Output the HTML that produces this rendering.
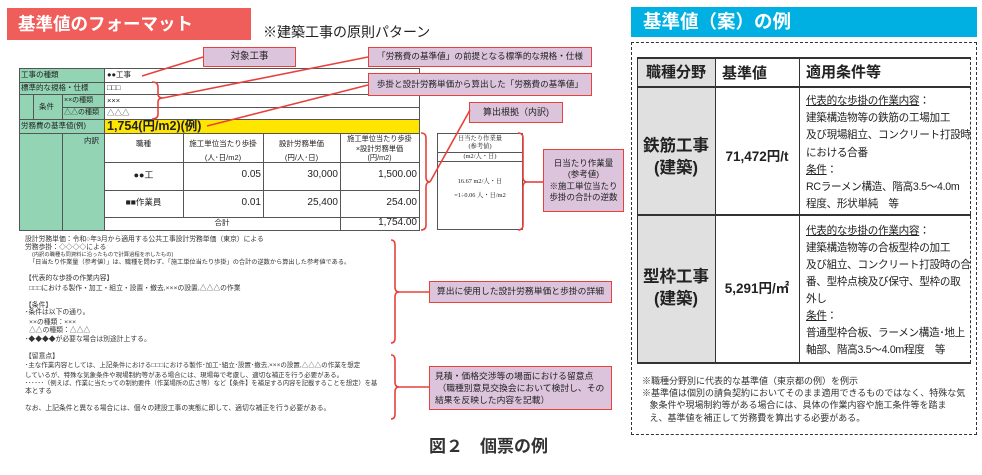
<!DOCTYPE html>
<html><head><meta charset="utf-8">
<style>
*{margin:0;padding:0;box-sizing:border-box}
body{width:982px;height:475px;background:#fff;position:relative;overflow:hidden;font-family:"Liberation Sans","Noto Sans CJK JP",sans-serif;color:#222}
.a{position:absolute}
.box{position:absolute;background:#dcc4dc;border:1.5px solid #e8413c;font-size:8.6px;display:flex;align-items:center;justify-content:center;text-align:center;line-height:1.3;white-space:nowrap}
.c{position:absolute;font-size:7.5px;line-height:1;white-space:nowrap}
.g{background:#93d4b5}
.ln{position:absolute;background:#555}
.t{position:absolute;font-size:6.8px;line-height:1;white-space:nowrap;left:25px;color:#333}
u{text-decoration:underline}
</style></head><body>

<div class="a" style="left:7px;top:8px;width:244px;height:32px;background:#ef5e5a;color:#fff;font-size:17.5px;font-weight:bold;line-height:32px;padding-left:11px">基準値のフォーマット</div>
<div class="a" style="left:263px;top:22px;font-size:14px;line-height:20px;color:#222">※建築工事の原則パターン</div>

<div class="a g" style="left:19px;top:68px;width:85px;height:162px"></div>
<div class="a" style="left:104px;top:68px;width:315px;height:51px;background:#fff"></div>
<div class="a" style="left:104px;top:119px;width:315px;height:14px;background:#ffe600"></div>
<div class="a" style="left:104px;top:133px;width:315px;height:97px;background:#fff"></div>
<div class="a" style="left:19px;top:68px;width:401px;height:163px;border:1.5px solid #555"></div>
<div class="ln" style="left:19px;top:82px;width:400px;height:1px"></div>
<div class="ln" style="left:19px;top:94px;width:400px;height:1px"></div>
<div class="ln" style="left:62px;top:107px;width:357px;height:1px"></div>
<div class="ln" style="left:19px;top:119px;width:400px;height:1px"></div>
<div class="ln" style="left:19px;top:133px;width:400px;height:1px"></div>
<div class="ln" style="left:104px;top:162px;width:315px;height:1px"></div>
<div class="ln" style="left:104px;top:190px;width:315px;height:1px"></div>
<div class="ln" style="left:104px;top:217px;width:315px;height:1px"></div>
<div class="ln" style="left:104px;top:68px;width:1px;height:162px"></div>
<div class="ln" style="left:33px;top:94px;width:1px;height:25px"></div>
<div class="ln" style="left:62px;top:94px;width:1px;height:25px"></div>
<div class="ln" style="left:62px;top:133px;width:1px;height:97px"></div>
<div class="ln" style="left:183px;top:133px;width:1px;height:84px"></div>
<div class="ln" style="left:263px;top:133px;width:1px;height:84px"></div>
<div class="ln" style="left:340px;top:133px;width:1px;height:97px"></div>

<div class="c" style="left:21px;top:71px">工事の種類</div>
<div class="c" style="left:107px;top:71px">●●工事</div>
<div class="c" style="left:21px;top:84px">標準的な規格・仕様</div>
<div class="c" style="left:107px;top:84px">□□□</div>
<div class="c" style="left:39px;top:103px">条件</div>
<div class="c" style="left:64px;top:97px;font-size:7px">××の種類</div>
<div class="c" style="left:107px;top:97px">×××</div>
<div class="c" style="left:64px;top:109px;font-size:7px">△△の種類</div>
<div class="c" style="left:107px;top:109px">△△△</div>
<div class="c" style="left:21px;top:122px">労務費の基準値(例)</div>
<div class="c" style="left:107px;top:119px;font-size:12.5px;font-weight:bold;line-height:14px">1,754(円/m2)(例)</div>
<div class="c" style="left:84px;top:137px">内訳</div>
<div class="c" style="left:104px;width:79px;top:140px;text-align:center">職種</div>
<div class="c" style="left:183px;width:80px;top:137px;text-align:center;line-height:14px">施工単位当たり歩掛<br>(人･日/m2)</div>
<div class="c" style="left:263px;width:77px;top:137px;text-align:center;line-height:14px">設計労務単価<br>(円/人･日)</div>
<div class="c" style="left:340px;width:79px;top:134px;text-align:center;line-height:9.5px;font-size:7.2px">施工単位当たり歩掛<br>×設計労務単価<br>(円/m2)</div>
<div class="c" style="left:104px;width:79px;top:171px;text-align:center;font-size:9px">●●工</div>
<div class="c" style="left:183px;width:78px;top:170px;text-align:right;font-size:10px">0.05</div>
<div class="c" style="left:263px;width:75px;top:170px;text-align:right;font-size:10px">30,000</div>
<div class="c" style="left:340px;width:77px;top:170px;text-align:right;font-size:10px">1,500.00</div>
<div class="c" style="left:104px;width:79px;top:198px;text-align:center;font-size:8.5px">■■作業員</div>
<div class="c" style="left:183px;width:78px;top:198px;text-align:right;font-size:10px">0.01</div>
<div class="c" style="left:263px;width:75px;top:198px;text-align:right;font-size:10px">25,400</div>
<div class="c" style="left:340px;width:77px;top:198px;text-align:right;font-size:10px">254.00</div>
<div class="c" style="left:104px;width:236px;top:219px;text-align:center">合計</div>
<div class="c" style="left:340px;width:77px;top:218px;text-align:right;font-size:10px">1,754.00</div>

<div class="a" style="left:437px;top:133px;width:86px;height:97px;border:1px solid #555;background:#fff"></div>
<div class="ln" style="left:437px;top:152px;width:85px;height:1px"></div>
<div class="ln" style="left:437px;top:161px;width:85px;height:1px"></div>
<div class="c" style="left:437px;width:86px;top:135px;text-align:center;font-size:6.3px;line-height:8px;font-family:'Liberation Serif','Noto Serif CJK SC',serif">日当たり作業量<br>(参考値)</div>
<div class="c" style="left:437px;width:86px;top:153px;text-align:center;font-size:6.3px;line-height:8px;font-family:'Liberation Serif','Noto Serif CJK SC',serif">(m2/人・日)</div>
<div class="c" style="left:437px;width:86px;top:179px;text-align:center;font-size:6.3px;font-family:'Liberation Serif','Noto Serif CJK SC',serif">16.67 m2/人・日</div>
<div class="c" style="left:437px;width:86px;top:193px;text-align:center;font-size:6.3px;font-family:'Liberation Serif','Noto Serif CJK SC',serif">=1÷0.06 人・日/m2</div>

<div class="box" style="left:203px;top:47px;width:93px;height:20px;font-size:9.5px">対象工事</div>
<div class="box" style="left:368px;top:47px;width:224px;height:20px">「労務費の基準値」の前提となる標準的な規格・仕様</div>
<div class="box" style="left:368px;top:73px;width:224px;height:23px">歩掛と設計労務単価から算出した「労務費の基準値」</div>
<div class="box" style="left:469px;top:102px;width:94px;height:21px;font-size:9px">算出根拠（内訳)</div>
<div class="box" style="left:543px;top:149px;width:81px;height:63px;font-size:8.5px;line-height:1.3">日当たり作業量<br>(参考値)<br>※施工単位当たり<br>歩掛の合計の逆数</div>
<div class="box" style="left:429px;top:281px;width:183px;height:22px;font-size:8.8px">算出に使用した設計労務単価と歩掛の詳細</div>
<div class="box" style="left:429px;top:366px;width:183px;height:44px;font-size:8.8px;justify-content:flex-start;text-align:left;padding-left:5px;line-height:1.4">見積・価格交渉等の場面における留意点<br>&nbsp;（職種別意見交換会において検討し、その<br>結果を反映した内容を記載）</div>

<svg class="a" style="left:0;top:0" width="982" height="475" viewBox="0 0 982 475" fill="none" stroke="#e8413c" stroke-width="1.6">
<line x1="203" y1="57" x2="142" y2="76"/>
<line x1="368" y1="57" x2="163" y2="98"/>
<line x1="368" y1="85" x2="207" y2="126"/>
<line x1="430" y1="182" x2="470" y2="110"/>
<line x1="527" y1="182" x2="543" y2="182"/>
<line x1="398" y1="292" x2="429" y2="292"/>
<line x1="398" y1="387" x2="429" y2="387"/>
<path d="M152,82 Q158,82 158,87 L158,94 Q158,98 163,98 Q158,98 158,102 L158,114 Q158,119 152,119"/>
<path d="M421,133 Q426,133 426,138 L426,177 Q426,182 430,182 Q426,182 426,187 L426,225 Q426,230 421,230"/>
<path d="M518,133 Q523,133 523,138 L523,177 Q523,182 527,182 Q523,182 523,187 L523,225 Q523,230 518,230"/>
<path d="M391,240 Q395,240 395,245 L395,287 Q395,292 399,292 Q395,292 395,297 L395,338 Q395,343 391,343"/>
<path d="M391,355 Q395,355 395,360 L395,382 Q395,387 399,387 Q395,387 395,392 L395,414 Q395,419 391,419"/>
</svg>

<div class="t" style="top:237px">設計労務単価：令和○年3月から適用する公共工事設計労務単価（東京）による</div>
<div class="t" style="top:245px">労務歩掛：◇◇◇◇による</div>
<div class="t" style="top:253px;left:32px;font-size:5.3px">(内訳の職種も同資料に沿ったもので計算過程を示したもの)</div>
<div class="t" style="top:260px;left:29px;font-size:6.2px">「日当たり作業量（参考値）」は、職種を問わず、「施工単位当たり歩掛」の合計の逆数から算出した参考値である。</div>
<div class="t" style="top:276px">【代表的な歩掛の作業内容】</div>
<div class="t" style="top:286px;left:29px">□□□における製作・加工・組立・設置・撤去,×××の設置,△△△の作業</div>
<div class="t" style="top:303px">【条件】</div>
<div class="t" style="top:310px">･条件は以下の通り。</div>
<div class="t" style="top:320px;left:29px">××の種類：×××</div>
<div class="t" style="top:328px;left:29px">△△の種類：△△△</div>
<div class="t" style="top:337px">･◆◆◆◆が必要な場合は別途計上する。</div>
<div class="t" style="top:354px">【留意点】</div>
<div class="t" style="top:363px;font-size:6.5px">･主な作業内容としては、上記条件における□□□における製作･加工･組立･設置･撤去,×××の設置,△△△の作業を想定</div>
<div class="t" style="top:373px;font-size:6.5px">しているが、特殊な気象条件や現場制約等がある場合には、現場毎で考慮し、適切な補正を行う必要がある。</div>
<div class="t" style="top:381px;font-size:6.3px">･･････（例えば、作業に当たっての制約要件（作業場所の広さ等）など【条件】を補足する内容を記載することを想定）を基</div>
<div class="t" style="top:389px">本とする</div>
<div class="t" style="top:406px">なお、上記条件と異なる場合には、個々の建設工事の実態に即して、適切な補正を行う必要がある。</div>

<div class="a" style="left:429px;top:437px;font-size:17px;font-weight:bold;line-height:20px;color:#333">図２　個票の例</div>

<div class="a" style="left:631px;top:7px;width:346px;height:30px;background:#00b0e2;color:#fff;font-size:18.5px;font-weight:bold;line-height:30px;padding-left:12px">基準値（案）の例</div>
<div class="a" style="left:631px;top:42px;width:346px;height:393px;border:1.3px dashed #333"></div>
<div class="a" style="left:637px;top:57px;width:78px;height:306px;background:#e0e0e0"></div>
<div class="a" style="left:637px;top:57px;width:334px;height:306px;border:1px solid #333;border-right:1px dashed #333"></div>
<div class="ln" style="left:637px;top:57px;width:334px;height:2px;background:#333"></div>
<div class="ln" style="left:637px;top:86px;width:334px;height:2px;background:#333"></div>
<div class="ln" style="left:637px;top:214px;width:334px;height:2px;background:#333"></div>
<div class="ln" style="left:637px;top:362px;width:334px;height:2px;background:#333"></div>
<div class="ln" style="left:715px;top:57px;width:1px;height:306px;background:#333"></div>
<div class="ln" style="left:799px;top:57px;width:1px;height:306px;background:#333"></div>

<div class="a" style="left:637px;width:78px;top:63px;text-align:center;font-size:15px;font-weight:bold;line-height:20px">職種分野</div>
<div class="a" style="left:722px;top:64px;font-size:15px;font-weight:bold;line-height:20px">基準値</div>
<div class="a" style="left:806px;top:63px;font-size:15px;font-weight:bold;line-height:20px">適用条件等</div>

<div class="a" style="left:637px;width:78px;top:135px;text-align:center;font-size:16.5px;font-weight:bold;line-height:22px">鉄筋工事<br>(建築)</div>
<div class="a" style="left:715px;width:84px;top:148px;text-align:center;font-size:13.5px;font-weight:bold;line-height:18px">71,472円/t</div>
<div class="a" style="left:806px;top:93px;font-size:10.6px;letter-spacing:-0.3px;line-height:17.2px;white-space:nowrap"><u>代表的な歩掛の作業内容</u>：<br>建築構造物等の鉄筋の工場加工<br>及び現場組立、コンクリート打設時<br>における合番<br><u>条件</u>：<br>RCラーメン構造、階高3.5～4.0m<br>程度、形状単純　等</div>

<div class="a" style="left:637px;width:78px;top:266px;text-align:center;font-size:16.5px;font-weight:bold;line-height:22px">型枠工事<br>(建築)</div>
<div class="a" style="left:715px;width:84px;top:280px;text-align:center;font-size:13.5px;font-weight:bold;line-height:18px">5,291円/㎡</div>
<div class="a" style="left:806px;top:223px;font-size:10.6px;letter-spacing:-0.3px;line-height:17px;white-space:nowrap"><u>代表的な歩掛の作業内容</u>：<br>建築構造物等の合板型枠の加工<br>及び組立、コンクリート打設時の合<br>番、型枠点検及び保守、型枠の取<br>外し<br><u>条件</u>：<br>普通型枠合板、ラーメン構造･地上<br>軸部、階高3.5～4.0m程度　等</div>

<div class="a" style="left:642px;top:375px;font-size:9px;line-height:12.2px;white-space:nowrap;color:#333">※職種分野別に代表的な基準値（東京都の例）を例示<br>※基準値は個別の請負契約においてそのまま適用できるものではなく、特殊な気<br>&nbsp;&nbsp;&nbsp;象条件や現場制約等がある場合には、具体の作業内容や施工条件等を踏ま<br>&nbsp;&nbsp;&nbsp;え、基準値を補正して労務費を算出する必要がある。</div>

</body></html>
